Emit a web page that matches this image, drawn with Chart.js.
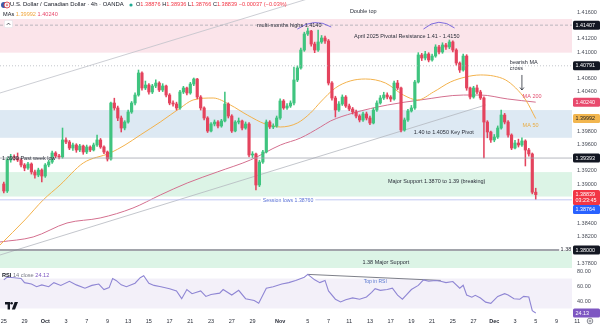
<!DOCTYPE html>
<html>
<head>
<meta charset="utf-8">
<title>USD/CAD 4h</title>
<script src="https://cdn.jsdelivr.net/npm/chart.js@4.4.1/dist/chart.umd.min.js"></script>
<style>
  html, body { margin:0; padding:0; background:#fff; }
  #wrap { position:relative; width:600px; height:325px; overflow:hidden;
          font-family:"Liberation Sans", Arial, sans-serif; color:#131722; }
  canvas { position:absolute; left:0; }
  #main { top:0; }
  #rsi { top:266px; }
  .t { position:absolute; white-space:nowrap; font-size:5.6px; line-height:7px; }
  .red { color:#f23645; }
  .grey { color:#787b86; }
</style>
</head>
<body>
<div id="wrap">
  <canvas id="main" width="600" height="268"></canvas>
  <canvas id="rsi" width="600" height="59"></canvas>

  <svg class="t" style="left:1px;top:1px" width="9" height="8" viewBox="0 0 9 8">
    <circle cx="3" cy="4" r="3" fill="#3c5ba9"/>
    <circle cx="6" cy="4" r="3" fill="#f4f4f4" stroke="#e0303c" stroke-width="0.8"/>
    <path d="M6 2.3 L6.9 4.7 L5.1 4.7Z" fill="#e0303c"/>
  </svg>
  <div class="t" style="left:10px;top:1px;font-size:5.9px">U.S. Dollar / Canadian Dollar · 4h · OANDA</div>
  <svg class="t" style="left:129px;top:3px" width="4" height="4"><circle cx="2" cy="2" r="1.6" fill="#22ab94"/></svg>
  <div class="t" style="left:136px;top:1px">O<span class="red">1.38876</span> H<span class="red">1.38936</span> L<span class="red">1.38766</span> C<span class="red">1.38839</span> <span class="red">−0.00037 (−0.03%)</span></div>
  <div class="t" style="left:3px;top:11px">MAs <span style="color:#f0a63c">1.39992</span> <span style="color:#e8496c">1.40240</span></div>
  <svg class="t" style="left:4px;top:20px" width="9" height="8" viewBox="0 0 9 8">
    <rect x="0.3" y="0.3" width="8.4" height="7.4" rx="1.5" fill="#fff" stroke="#d6d8de" stroke-width="0.5"/>
    <path d="M2.8 4.8 L4.5 3.1 L6.2 4.8" fill="none" stroke="#131722" stroke-width="0.7"/>
  </svg>

  <div class="t" style="left:2px;top:272px"><b>RSI</b> <span class="grey">14 close</span> <span style="color:#7e57c2">24.12</span></div>
  <svg class="t" style="left:5px;top:302px" width="13" height="8" viewBox="0 0 13 8">
    <path d="M0 0 H5 V7.5 H2.6 V2.4 H0Z" fill="#131722"/>
    <circle cx="6.6" cy="1.3" r="1.3" fill="#131722"/>
    <path d="M9.6 0 H13 L10 7.5 H6.8Z" fill="#131722"/>
  </svg>
  <svg class="t" style="left:586px;top:317px" width="8" height="8" viewBox="0 0 8 8">
    <circle cx="4" cy="4" r="2.8" fill="none" stroke="#6a6d78" stroke-width="0.8"/>
    <circle cx="4" cy="4" r="1" fill="none" stroke="#6a6d78" stroke-width="0.7"/>
  </svg>
</div>

<script>
// --- price data, 4h candles from Sep 25 to Dec 5 (slot = candle index) ---
const firstOpen = 1.39000;
const closes = [
  1.38894, 1.39364, 1.39409, 1.39394, 1.39364, 1.39288, 1.39242, 1.39303, 1.39182, 1.39136,
  1.39212, 1.39121, 1.39288, 1.39333, 1.39470, 1.39424, 1.39409, 1.39667, 1.39636, 1.39545,
  1.39591, 1.39515, 1.39576, 1.39485, 1.39561, 1.39515, 1.39591, 1.39667, 1.39561, 1.39485,
  1.39379, 1.40227, 1.40152, 1.40000, 1.39848, 1.39939, 1.40091, 1.40227, 1.40348, 1.40682,
  1.40455, 1.40500, 1.40394, 1.40485, 1.40530, 1.40424, 1.40485, 1.40348, 1.40227, 1.40212,
  1.40152, 1.40394, 1.40455, 1.40379, 1.40515, 1.40591, 1.40318, 1.40152, 1.40000, 1.39803,
  1.39909, 1.39939, 1.39879, 1.39955, 1.40212, 1.40030, 1.39803, 1.39939, 1.39955, 1.39848,
  1.39909, 1.39439, 1.39455, 1.38985, 1.39333, 1.39485, 1.39939, 1.39864, 1.39879, 1.40000,
  1.40258, 1.40152, 1.40182, 1.40227, 1.40576, 1.40758, 1.41030, 1.41273, 1.41318, 1.41121,
  1.41030, 1.41152, 1.41212, 1.41167, 1.40530, 1.40303, 1.40121, 1.40212, 1.40318, 1.40182,
  1.40136, 1.40091, 1.40030, 1.39970, 1.40061, 1.40000, 1.39924, 1.40121, 1.40227, 1.40303,
  1.40348, 1.40318, 1.40288, 1.40530, 1.40455, 1.39818, 1.39970, 1.40106, 1.40152, 1.40545,
  1.40955, 1.40909, 1.40970, 1.40879, 1.40939, 1.41076, 1.41000, 1.41106, 1.41076, 1.41152,
  1.41030, 1.40833, 1.40727, 1.40939, 1.40455, 1.40318, 1.40455, 1.40394, 1.40303, 1.39939,
  1.39788, 1.39667, 1.39712, 1.39848, 1.40045, 1.39939, 1.39742, 1.39545, 1.39621, 1.39591,
  1.39652, 1.39515, 1.39455, 1.38876, 1.38839
];
const highs = [
  1.39030, 1.39400, 1.39450, 1.39440, 1.39470, 1.39390, 1.39310, 1.39330, 1.39320, 1.39210,
  1.39240, 1.39230, 1.39310, 1.39360, 1.39500, 1.39490, 1.39450, 1.39848, 1.39700, 1.39660,
  1.39620, 1.39610, 1.39600, 1.39590, 1.39590, 1.39580, 1.39620, 1.39742, 1.39690, 1.39580,
  1.39500, 1.40242, 1.40300, 1.40180, 1.40030, 1.39960, 1.40120, 1.40250, 1.40380, 1.40727,
  1.40700, 1.40560, 1.40520, 1.40510, 1.40580, 1.40550, 1.40520, 1.40500, 1.40370, 1.40260,
  1.40240, 1.40420, 1.40480, 1.40470, 1.40540, 1.40606, 1.40600, 1.40340, 1.40170, 1.40020,
  1.39930, 1.39970, 1.39960, 1.39980, 1.40394, 1.40230, 1.40050, 1.39960, 1.40000, 1.39970,
  1.39940, 1.39930, 1.39490, 1.39470, 1.39360, 1.39510, 1.39970, 1.39960, 1.39910, 1.40030,
  1.40290, 1.40280, 1.40220, 1.40260, 1.40770, 1.40790, 1.41060, 1.41300, 1.41364, 1.41330,
  1.41150, 1.41333, 1.41250, 1.41240, 1.41190, 1.40550, 1.40330, 1.40250, 1.40350, 1.40340,
  1.40210, 1.40160, 1.40120, 1.40050, 1.40090, 1.40090, 1.40030, 1.40150, 1.40260, 1.40340,
  1.40390, 1.40380, 1.40340, 1.40560, 1.40570, 1.40470, 1.40000, 1.40130, 1.40190, 1.40570,
  1.40990, 1.40980, 1.41010, 1.40990, 1.40970, 1.41110, 1.41100, 1.41140, 1.41130, 1.41182,
  1.41170, 1.41050, 1.40850, 1.40970, 1.40960, 1.40470, 1.40480, 1.40500, 1.40420, 1.40320,
  1.39960, 1.39800, 1.39750, 1.39880, 1.40121, 1.40070, 1.39960, 1.39760, 1.39660, 1.39680,
  1.39700, 1.39670, 1.39540, 1.39470, 1.38936
];
const lows = [
  1.38864, 1.38870, 1.39330, 1.39360, 1.39340, 1.39260, 1.39200, 1.39220, 1.39150, 1.39090,
  1.39110, 1.39030, 1.39100, 1.39260, 1.39310, 1.39400, 1.39380, 1.39390, 1.39610, 1.39520,
  1.39510, 1.39480, 1.39490, 1.39450, 1.39460, 1.39490, 1.39500, 1.39570, 1.39540, 1.39460,
  1.39348, 1.39360, 1.40120, 1.39960, 1.39788, 1.39820, 1.39920, 1.40070, 1.40200, 1.40330,
  1.40420, 1.40430, 1.40360, 1.40370, 1.40460, 1.40400, 1.40400, 1.40320, 1.40200, 1.40180,
  1.40121, 1.40130, 1.40370, 1.40350, 1.40360, 1.40490, 1.40290, 1.40120, 1.39970, 1.39780,
  1.39790, 1.39880, 1.39850, 1.39860, 1.39940, 1.40000, 1.39780, 1.39790, 1.39910, 1.39820,
  1.39830, 1.39410, 1.39400, 1.38909, 1.38960, 1.39310, 1.39470, 1.39840, 1.39840, 1.39860,
  1.39980, 1.40130, 1.40130, 1.40160, 1.40200, 1.40550, 1.40740, 1.41010, 1.41250, 1.41090,
  1.40990, 1.41010, 1.41130, 1.41130, 1.40500, 1.40270, 1.40015, 1.40100, 1.40190, 1.40160,
  1.40110, 1.40060, 1.40000, 1.39940, 1.39950, 1.39970, 1.39900, 1.39910, 1.40100, 1.40210,
  1.40280, 1.40290, 1.40250, 1.40270, 1.40430, 1.39788, 1.39800, 1.39950, 1.40090, 1.40130,
  1.40530, 1.40870, 1.40880, 1.40850, 1.40860, 1.40920, 1.40970, 1.40980, 1.41040, 1.41050,
  1.41000, 1.40800, 1.40690, 1.40710, 1.40420, 1.40290, 1.40300, 1.40370, 1.40280, 1.39394,
  1.39700, 1.39630, 1.39640, 1.39690, 1.39830, 1.39910, 1.39710, 1.39520, 1.39530, 1.39560,
  1.39570, 1.39273, 1.39420, 1.38850, 1.38766
];

// moving averages at a few slots
const ma50Slots  = [-1.1, 6.1, 11.4, 16.3, 23, 30.8, 35.1, 39.5, 45.3, 51.1, 54.8, 60.6, 65.6, 70.5, 75.7, 80.1, 85,
                    88.8, 91.7, 96, 100.3, 104.7, 110.5, 115.7, 119.8, 124.4, 129.3, 133.7, 138, 141.8, 145.3, 148.2, 151.1, 154];
const ma50Values = [1.38076, 1.38455, 1.38758, 1.38985, 1.39318, 1.39470, 1.39591, 1.39742, 1.39939, 1.40152, 1.40273,
                    1.40303, 1.40197, 1.40045, 1.39909, 1.39864, 1.39924, 1.40076, 1.40242, 1.40455, 1.40561, 1.40591,
                    1.40530, 1.40348, 1.40273, 1.40394, 1.40545, 1.40621, 1.40652, 1.40636, 1.40576, 1.40455, 1.40273, 1.39992];
const ma200Slots  = [-1.1, 8.5, 18.3, 27.9, 37.4, 45.3, 53.1, 61.8, 71.4, 80.1, 85.9, 91.7, 94.6, 101.2, 111.1, 120.6, 133.1, 138, 145.9, 154];
const ma200Values = [1.38121, 1.38197, 1.38409, 1.38485, 1.38636, 1.38833, 1.39015, 1.39182, 1.39364, 1.39591,
                     1.39697, 1.39864, 1.39955, 1.40076, 1.40197, 1.40273, 1.40348, 1.40348, 1.40288, 1.40240];

// hand drawn trend lines (slot, price pairs)
const trendSlots = [-1.1, 139.5];
const trendPrices = [1.37924, 1.40197];
const channelSlots = [-1.1, 90];
const channelPrices = [1.40379, 1.41837];

// RSI(14)
const rsiSlots = [0, 1, 3, 5, 6, 8, 9.5, 11, 13, 14.5, 16.5, 19, 21, 23.5, 25.5, 27.5, 29, 30.5, 31.5, 32.5,
  34, 35.5, 38, 39.5, 40.5, 42, 43.5, 45.5, 48, 50, 51.5, 53, 54.5, 57, 58.5, 60, 62.5, 63.5, 66, 68,
  70, 72.5, 73.8, 76, 78, 80.5, 82.5, 84.5, 87, 88, 90, 91.5, 93, 94, 96, 97.5, 99, 101, 103, 105,
  106.5, 107.5, 109, 111, 112.5, 114, 115.4, 116.5, 118, 120, 121.5, 123, 125, 126.5, 128, 130, 132, 133, 134, 135.5,
  136.5, 138, 139.5, 141, 143, 145, 146, 147.7, 149.4, 150.5, 152, 153, 154];
const rsiValues = [68.2, 71.8, 71.1, 70.0, 64.5, 62.6, 59.0, 61.5, 59.0, 64.5, 60.8, 66.3, 61.5, 57.1, 60.8, 62.6, 55.3, 57.9, 70.0, 67.4,
  61.5, 59.0, 63.7, 71.1, 73.7, 63.7, 60.8, 59.0, 56.4, 53.4, 43.1, 55.3, 49.8, 53.4, 46.1, 48.7, 50.5, 55.3, 47.9, 54.2,
  43.1, 40.6, 36.9, 57.1, 59.0, 62.6, 64.5, 67.4, 71.8, 75.5, 68.2, 64.5, 67.4, 53.4, 42.4, 38.7, 41.7, 44.2, 42.4, 45.3,
  51.6, 56.4, 54.2, 55.3, 57.1, 47.9, 42.4, 47.9, 55.3, 60.8, 68.2, 66.3, 67.4, 66.3, 64.5, 66.0, 57.0, 61.0, 48.0, 45.0,
  47.5, 44.0, 38.5, 36.9, 46.1, 49.8, 47.9, 43.0, 42.4, 46.1, 45.3, 27.0, 24.1];
const rsiTopSlots = [88, 126.5];
const rsiTopValues = [75.5, 67.4];

// date axis
const dateSlots  = [0, 6, 12, 18, 24, 30, 36, 42, 48, 54, 60, 66, 72, 80, 88, 94, 100, 106, 112, 118, 124, 130, 136, 142, 148, 154, 160, 166];
const dateLabels = ['25', '29', 'Oct', '3', '7', '9', '13', '15', '17', '21', '23', '27', '29', 'Nov', '5', '7', '11', '13', '17', '19', '21', '25', '27', 'Dec', '3', '5', '9', '11'];

// zones and horizontal levels
const zoneBounds = [[1.4099, 1.4150], [1.3970, 1.4012], [1.3881, 1.3918], [1.3760, 1.37985]];
const zoneFills  = ['#fbe4ea', '#dde9f3', '#dcf4e6', '#dcf4e6'];
const multiMonthHigh = 1.41407;
const prevSwing = 1.40791;
const pastWeekLow = 1.39393;
const sessionLow = 1.38760;
const bigFigure = 1.38000;

const tagValues = [multiMonthHigh, prevSwing, 1.40240, 1.39992, pastWeekLow, 1.38839, 1.38764, bigFigure];
const tagStyles = [
  {bg:'#131722', fg:'#fff'}, {bg:'#131722', fg:'#fff'}, {bg:'#e8496c', fg:'#fff'}, {bg:'#f2b64f', fg:'#131722'},
  {bg:'#131722', fg:'#fff'}, {bg:'#f23645', fg:'#fff', sub:'03:23:45'}, {bg:'#2962ff', fg:'#fff'}, {bg:'#131722', fg:'#fff'}
];

const UP = '#3fc47f', DOWN = '#e4435d';
const X_MIN = -1.1, X_MAX = 164.5;
const FONT = '"Liberation Sans", Arial, sans-serif';

Chart.defaults.font.family = FONT;
Chart.defaults.font.size = 5.5;
Chart.defaults.color = '#3b3f4a';

const opens = closes.map((c, i) => i ? closes[i - 1] : firstOpen);
const candleColor = ctx => closes[ctx.dataIndex] >= opens[ctx.dataIndex] ? UP : DOWN;
const pts = (xs, ys) => xs.map((x, i) => ({x, y: ys[i]}));

// text notes on the price pane: anchor is (slot, price)
const notes = [
  {text:'Double top', slot:100.2, price:1.41621},
  {text:'multi-months highs 1.4140', slot:73.3, price:1.41409},
  {text:'April 2025 Pivotal Resistance 1.41 - 1.4150', slot:101.4, price:1.41242},
  {text:'bearish MA', slot:146.5, price:1.40841},
  {text:'cross', slot:146.5, price:1.40750},
  {text:'MA 200', slot:150.2, price:1.40333, color:'#e24d6e'},
  {text:'MA 50', slot:150.2, price:1.39886, color:'#e9ad45'},
  {text:'1.40 to 1.4050 Key Pivot', slot:118.7, price:1.39773},
  {text:'1.3939 Past week low', slot:-0.5, price:1.39394},
  {text:'Major Support 1.3870 to 1.39 (breaking)', slot:111.2, price:1.39045},
  {text:'1.38 Major Support', slot:110.6, price:1.37818, align:'center'},
  {text:'1.38', slot:161.2, price:bigFigure}
];
const arcs = [
  [[85.0, 1.41348], [89.9, 1.41530], [94.8, 1.41379]],
  [[121.5, 1.41348], [125.9, 1.41545], [130.5, 1.41364]]
];

function hLine(ctx, a, py, color, width, dash, right) {
  ctx.strokeStyle = color; ctx.lineWidth = width; ctx.setLineDash(dash || []);
  ctx.beginPath(); ctx.moveTo(a.left, py); ctx.lineTo(right || a.right, py); ctx.stroke();
  ctx.setLineDash([]);
}

const pricePane = {
  id: 'pricePane',
  beforeDatasetsDraw(chart) {
    const {ctx, chartArea:a, scales:{y}} = chart;
    ctx.save();
    zoneBounds.forEach(([lo, hi], i) => {
      const t = y.getPixelForValue(hi), b = y.getPixelForValue(lo);
      ctx.fillStyle = zoneFills[i];
      ctx.fillRect(a.left, t, a.width, b - t);
    });
    ctx.restore();
  },
  afterDatasetsDraw(chart) {
    const {ctx, chartArea:a, scales:{x, y}} = chart;
    ctx.save();
    ctx.beginPath(); ctx.rect(a.left, a.top, a.width, a.height); ctx.clip();

    hLine(ctx, a, y.getPixelForValue(multiMonthHigh), '#9ea2ab', 0.7, [3, 2]);
    hLine(ctx, a, y.getPixelForValue(prevSwing), '#a9adb5', 0.7, [1, 2]);
    hLine(ctx, a, y.getPixelForValue(pastWeekLow), '#a3a6ae', 0.8);
    hLine(ctx, a, y.getPixelForValue(sessionLow), '#b3bbf0', 0.8);
    hLine(ctx, a, y.getPixelForValue(bigFigure), '#83868f', 1.6, null, x.getPixelForValue(160.8));

    // double top arcs
    ctx.strokeStyle = '#6f5ddb'; ctx.lineWidth = 0.9;
    arcs.forEach(([p0, c, p1]) => {
      ctx.beginPath();
      ctx.moveTo(x.getPixelForValue(p0[0]), y.getPixelForValue(p0[1]));
      ctx.quadraticCurveTo(x.getPixelForValue(c[0]), y.getPixelForValue(c[1]),
                           x.getPixelForValue(p1[0]), y.getPixelForValue(p1[1]));
      ctx.stroke();
    });

    // arrow pointing at the MA cross
    const ax = x.getPixelForValue(150), a0 = y.getPixelForValue(1.40652), a1 = y.getPixelForValue(1.40424);
    ctx.strokeStyle = '#2a2e39'; ctx.lineWidth = 0.8;
    ctx.beginPath(); ctx.moveTo(ax, a0); ctx.lineTo(ax, a1);
    ctx.moveTo(ax - 2, a1 - 2.5); ctx.lineTo(ax, a1); ctx.lineTo(ax + 2, a1 - 2.5); ctx.stroke();

    // session low caption sits in a gap of its line
    ctx.font = '5.2px ' + FONT;
    ctx.textBaseline = 'middle';
    const sl = 'Session lows 1.38760', sx = x.getPixelForValue(75), sy = y.getPixelForValue(sessionLow);
    const sw = ctx.measureText(sl).width;
    ctx.fillStyle = '#fff'; ctx.fillRect(sx - 2, sy - 2, sw + 4, 4);
    ctx.fillStyle = '#5b72d6'; ctx.fillText(sl, sx, sy + 0.3);

    ctx.font = '5.5px ' + FONT;
    notes.forEach(n => {
      ctx.fillStyle = n.color || '#2a2e39';
      ctx.textAlign = n.align || 'left';
      ctx.fillText(n.text, x.getPixelForValue(n.slot), y.getPixelForValue(n.price));
    });
    ctx.restore();
  },
  afterDraw(chart) {
    const {ctx, chartArea:a, scales:{y}} = chart;
    ctx.save();
    ctx.font = '5.4px ' + FONT;
    ctx.textBaseline = 'middle';
    let lastBottom = -Infinity;
    tagValues.map((v, i) => ({v, py: y.getPixelForValue(v), s: tagStyles[i]}))
      .sort((p, q) => p.py - q.py)
      .forEach(t => {
        const h = t.s.sub ? 15 : 9;
        let top = t.py - 4.5;
        if (top < lastBottom) top = lastBottom;
        lastBottom = top + h;
        ctx.fillStyle = t.s.bg;
        ctx.beginPath(); ctx.roundRect(a.right + 1, top, 27, h, 1.5); ctx.fill();
        ctx.fillStyle = t.s.fg;
        ctx.fillText(t.v.toFixed(5), a.right + 3.5, top + 4.7);
        if (t.s.sub) ctx.fillText(t.s.sub, a.right + 3.5, top + 10.7);
      });
    ctx.restore();
  }
};

new Chart(document.getElementById('main'), {
  type: 'bar',
  data: {
    datasets: [
      {type:'bar', data: closes.map((c, i) => ({x:i, y:[opens[i], c]})), backgroundColor: candleColor,
       barThickness: 2.5, minBarLength: 1, grouped: false, order: 0},
      {type:'bar', data: closes.map((c, i) => ({x:i, y:[lows[i], highs[i]]})), backgroundColor: candleColor,
       barThickness: 0.9, grouped: false, order: 1},
      {type:'line', data: pts(ma50Slots, ma50Values), borderColor:'#f3b24c', borderWidth:1,
       pointRadius:0, cubicInterpolationMode:'monotone', order: 2},
      {type:'line', data: pts(ma200Slots, ma200Values), borderColor:'#d4708f', borderWidth:1,
       pointRadius:0, cubicInterpolationMode:'monotone', order: 2},
      {type:'line', data: pts(trendSlots, trendPrices), borderColor:'#b4b7bf', borderWidth:0.8, pointRadius:0, order: 3},
      {type:'line', data: pts(channelSlots, channelPrices), borderColor:'#bfc2c9', borderWidth:0.8, pointRadius:0, order: 3}
    ]
  },
  options: {
    responsive: false, animation: false, devicePixelRatio: 1,
    layout: {padding: 0},
    plugins: {legend: {display: false}, tooltip: {enabled: false}},
    scales: {
      x: {type:'linear', min:X_MIN, max:X_MAX, display:false, offset:false},
      y: {
        position:'right', min:1.37727, max:1.41788, beginAtZero:false,
        grid:{display:false, drawTicks:false}, border:{display:false},
        ticks:{stepSize:0.002, includeBounds:false, autoSkip:false, padding:5, color:'#4a4e59',
               callback: v => v.toFixed(5)},
        afterFit(s) { s.width = 28; s.paddingTop = 0; s.paddingBottom = 0; }
      }
    }
  },
  plugins: [pricePane]
});

const rsiPane = {
  id: 'rsiPane',
  beforeDatasetsDraw(chart) {
    const {ctx, chartArea:a, scales:{y}} = chart;
    const t = y.getPixelForValue(70), b = y.getPixelForValue(30);
    ctx.save();
    ctx.fillStyle = 'rgba(126,87,194,0.09)';
    ctx.fillRect(a.left, t, a.width, b - t);
    ctx.restore();
  },
  afterDraw(chart) {
    const {ctx, chartArea:a, scales:{x, y}} = chart;
    ctx.save();
    ctx.font = '5px ' + FONT;
    ctx.textBaseline = 'middle';
    ctx.fillStyle = '#5a78d0';
    ctx.fillText('Top in RSI', x.getPixelForValue(104.2), y.getPixelForValue(65.8));
    const last = rsiValues[rsiValues.length - 1];
    const py = y.getPixelForValue(last);
    ctx.fillStyle = '#7e57c2';
    ctx.beginPath(); ctx.roundRect(a.right + 1, py - 4.5, 27, 9, 1.5); ctx.fill();
    ctx.fillStyle = '#fff';
    ctx.font = '5.4px ' + FONT;
    ctx.fillText('24.13', a.right + 3.5, py + 0.2);
    ctx.restore();
  }
};

new Chart(document.getElementById('rsi'), {
  type: 'line',
  data: {
    datasets: [
      {data: pts(rsiSlots, rsiValues), borderColor:'#8f86d4', borderWidth:1.1, pointRadius:0, tension:0},
      {data: pts(rsiTopSlots, rsiTopValues), borderColor:'#5d606b', borderWidth:0.8, pointRadius:0}
    ]
  },
  options: {
    responsive: false, animation: false, devicePixelRatio: 1,
    layout: {padding: 0},
    plugins: {legend: {display: false}, tooltip: {enabled: false}},
    scales: {
      x: {
        type:'linear', min:X_MIN, max:X_MAX, offset:false,
        grid:{display:false, drawTicks:false}, border:{display:false},
        afterBuildTicks(s) { s.ticks = dateSlots.map(v => ({value: v})); },
        ticks:{autoSkip:false, maxRotation:0, padding:2, color:'#2a2e39',
               callback: v => dateLabels[dateSlots.indexOf(v)] || '',
               font: c => ({size:5.5, weight: /^[A-Z]/.test(c.tick && c.tick.label) ? 'bold' : 'normal'})},
        afterFit(s) { s.height = 9; s.paddingLeft = 0; s.paddingRight = 0; }
      },
      y: {
        position:'right', min:20, max:86.67,
        grid:{display:false, drawTicks:false}, border:{display:false},
        ticks:{stepSize:20, includeBounds:false, autoSkip:false, padding:5, color:'#4a4e59',
               callback: v => v === 20 ? '' : v.toFixed(2)},
        afterFit(s) { s.width = 28; s.paddingTop = 0; s.paddingBottom = 0; }
      }
    }
  },
  plugins: [rsiPane]
});
</script>
</body>
</html>
